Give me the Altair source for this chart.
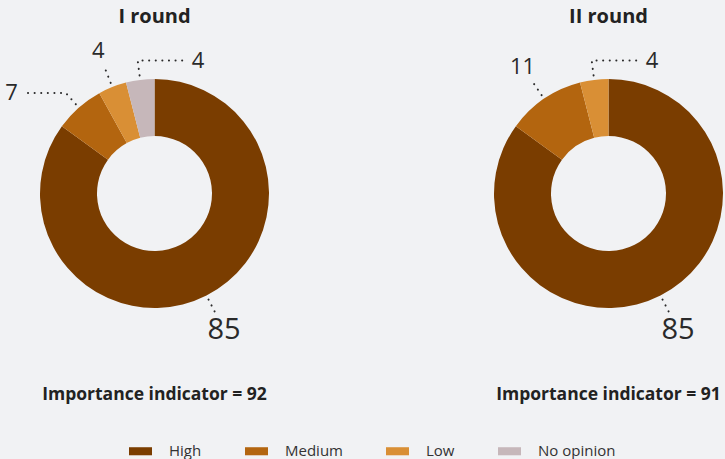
import math
import altair as alt
import pandas as pd

# ---------------- data ----------------
rounds = ["I round", "II round"]
categories = ["High", "Medium", "Low", "No opinion"]
round1_values = [85, 7, 4, 4]
round2_values = [85, 11, 4, 0]
importance = [92, 91]
colors = ["#7a3d00", "#b3650f", "#d98f35", "#c6b7ba"]

# ---------------- layout ----------------
W, H = 725, 459
CX = {"I round": 154.5, "II round": 608.5}
CY = 193.5
R_OUT, R_IN = 114.5, 57.5
R_LEAD1, R_LEAD2, R_LABEL = 119, 134, 153
ELBOW = {("I round", "Medium"): -41, ("I round", "No opinion"): 45, ("II round", "Low"): 45}
FONT = "Open Sans"

rows = []
for rnd, vals in zip(rounds, [round1_values, round2_values]):
    cum = 0
    for i, (cat, v) in enumerate(zip(categories, vals)):
        if v <= 0:
            continue
        rows.append(dict(round=rnd, category=cat, value=v, order=i,
                         start=cum, end=cum + v, cx=CX[rnd]))
        cum += v
slices = pd.DataFrame(rows)

# leader lines and label positions derived from slice mid-angles
lead_rows, lab_rows = [], []
for _, r in slices.iterrows():
    ang = (r.start + r.end) / 2 / 100 * 2 * math.pi
    s, c = math.sin(ang), math.cos(ang)
    key = f"{r['round']}|{r.category}"
    p1 = (r.cx + R_LEAD1 * s, CY - R_LEAD1 * c)
    p2 = (r.cx + R_LEAD2 * s, CY - R_LEAD2 * c)
    pts = [p1, p2]
    elb = ELBOW.get((r["round"], r.category), 0)
    if elb:
        p3 = (p2[0] + elb, p2[1])
        pts.append(p3)
        side = "left" if elb > 0 else "right"
        lx = p3[0] + (9 if elb > 0 else -7)
        ly = p3[1]
    else:
        side = "center"
        lx, ly = r.cx + R_LABEL * s, CY - R_LABEL * c
    for j, (x, y) in enumerate(pts):
        lead_rows.append(dict(key=key, seq=j, px=x, py=y))
    lab_rows.append(dict(key=key, text=str(int(r.value)), lx=lx, ly=ly,
                         side=side, fs=29 if r.value > 50 else 22))
leads = pd.DataFrame(lead_rows)
labels = pd.DataFrame(lab_rows)

titles = pd.DataFrame(dict(round=rounds, cx=[CX[r] for r in rounds],
                           imp=[f"Importance indicator = {v}" for v in importance]))

XS = alt.Scale(domain=[0, W], range=[0, W], nice=False, zero=False)
YS = alt.Scale(domain=[0, H], range=[0, H], nice=False, zero=False)

arcs = alt.Chart(slices).mark_arc(outerRadius=R_OUT, innerRadius=R_IN, stroke=None).encode(
    x=alt.X("cx:Q", scale=XS, axis=None, stack=None),
    y=alt.value(CY),
    theta=alt.Theta("start:Q", stack=None,
                    scale=alt.Scale(domain=[0, 100], range=[0, 2 * math.pi])),
    theta2="end:Q",
    color=alt.Color(
        "category:N",
        scale=alt.Scale(domain=categories, range=colors),
        legend=alt.Legend(
            orient="none", legendX=129, legendY=439.5, direction="horizontal",
            title=None, symbolType="M-1,-0.35H1V0.35H-1Z", symbolSize=529,
            symbolStrokeWidth=0, symbolOpacity=1, labelFont=FONT, labelFontSize=15,
            labelColor="#333333", labelOffset=17, columnPadding=43, padding=0,
        ),
    ),
)

leader = alt.Chart(leads).mark_line(
    color="#2b2b2b", strokeWidth=2, strokeDash=[0.1, 6.5], strokeCap="round"
).encode(
    x=alt.X("px:Q", scale=XS, axis=None),
    y=alt.Y("py:Q", scale=YS, axis=None),
    detail="key:N",
    order="seq:Q",
)

def label_layer(side):
    return alt.Chart(labels).transform_filter(alt.datum.side == side).mark_text(
        align=side, baseline="middle", font=FONT, fontWeight="normal", color="#2a2a2a"
    ).encode(
        x=alt.X("lx:Q", scale=XS, axis=None),
        y=alt.Y("ly:Q", scale=YS, axis=None),
        text="text:N",
        size=alt.Size("fs:Q", scale=None, legend=None),
    )

title_text = alt.Chart(titles).mark_text(
    font=FONT, fontSize=20, fontWeight="bold", color="#222222", baseline="middle"
).encode(x=alt.X("cx:Q", scale=XS, axis=None), y=alt.value(17), text="round:N")

imp_text = alt.Chart(titles).mark_text(
    font=FONT, fontSize=17.5, fontWeight="bold", color="#222222", baseline="middle"
).encode(x=alt.X("cx:Q", scale=XS, axis=None), y=alt.value(395), text="imp:N")

chart = alt.layer(
    arcs, leader, label_layer("center"), label_layer("left"), label_layer("right"),
    title_text, imp_text,
).properties(
    width=W, height=H, autosize="none", padding=0, background="#f1f2f4"
).configure_view(stroke=None)

chart.save("out.html", embed_options={"renderer": "svg", "actions": False})
